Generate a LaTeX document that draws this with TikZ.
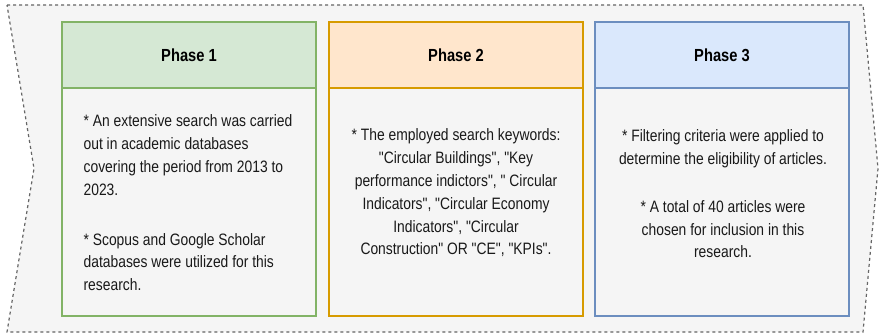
\documentclass[tikz,border=0pt]{standalone}
\usepackage{fontspec}
\setmainfont{Liberation Sans}[FakeStretch=0.84, Ligatures=TeXOff]
\usetikzlibrary{positioning}

\definecolor{panelgray}{HTML}{F5F5F5}
\definecolor{edgegray}{HTML}{666666}
\definecolor{greenline}{HTML}{82B366}
\definecolor{greenfill}{HTML}{D5E8D4}
\definecolor{orangeline}{HTML}{D79B00}
\definecolor{orangefill}{HTML}{FFE6CC}
\definecolor{blueline}{HTML}{6C8EBF}
\definecolor{bluefill}{HTML}{DAE8FC}

\tikzset{
    phasehead/.style={rectangle, line width=1.2pt, outer sep=0pt,
        minimum width=254pt, minimum height=66pt,
        font=\fontsize{17.5}{20}\selectfont\bfseries, text=black},
    phasebody/.style={rectangle, line width=1.2pt, outer sep=0pt, fill=panelgray,
        minimum width=254pt, minimum height=228pt},
    phasetext/.style={font=\fontsize{16.5}{22.8}\selectfont, text=black!90, inner sep=0pt}
}

\begin{document}
\begin{tikzpicture}[x=1pt, y=-1pt]
    \useasboundingbox (0,0) rectangle (880,334);
    % Step-shaped frame
    \draw [edgegray, fill=panelgray, line width=1.2pt, dash pattern=on 3pt off 3pt]
        (7,5) -- (863,5) -- (878,168.5) -- (863,332) -- (7,332) -- (34,168.5) -- cycle;

    % Phase 1
    \node [phasehead, draw=greenline, fill=greenfill] (p1head) at (189,55) {Phase 1};
    \node [phasebody, draw=greenline, below=0pt of p1head] (p1body) {};
    \node [phasetext, align=left] (p1text) at (188,203) {%
        * An extensive search was carried\\
        out in academic databases\\
        covering the period from 2013 to\\
        2023.\\[27pt]
        * Scopus and Google Scholar\\
        databases were utilized for this\\
        research.};

    % Phase 2
    \node [phasehead, draw=orangeline, fill=orangefill, right=13pt of p1head] (p2head) {Phase 2};
    \node [phasebody, draw=orangeline, below=0pt of p2head] (p2body) {};
    \node [phasetext, align=center] (p2text) at (456,193) {%
        * The employed search keywords:\\
        "Circular Buildings", "Key\\
        performance indictors", " Circular\\
        Indicators", "Circular Economy\\
        Indicators", "Circular\\
        Construction" OR "CE", "KPIs".};

    % Phase 3
    \node [phasehead, draw=blueline, fill=bluefill, right=12pt of p2head] (p3head) {Phase 3};
    \node [phasebody, draw=blueline, below=0pt of p3head] (p3body) {};
    \node [phasetext, align=center] (p3text) at (723,194) {%
        * Filtering criteria were applied to\\
        determine the eligibility of articles.\\[25pt]
        * A total of 40 articles were\\
        chosen for inclusion in this\\
        research.};
\end{tikzpicture}
\end{document}
